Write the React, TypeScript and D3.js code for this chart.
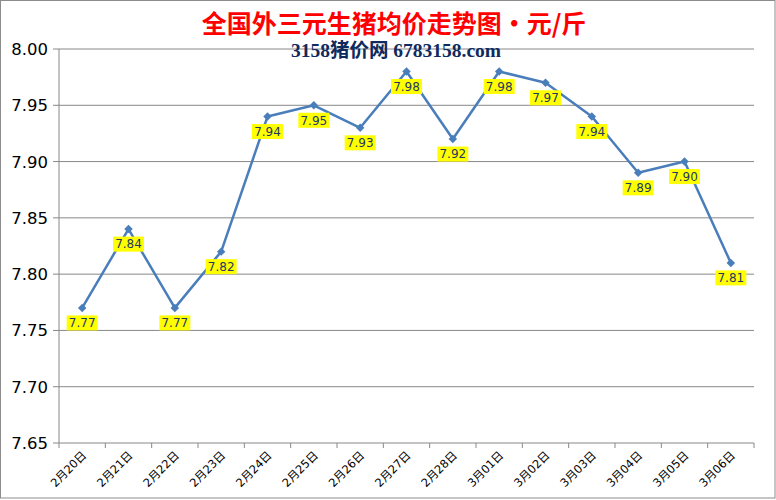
import React from "react";
import * as d3 from "d3";

const categories = ["2月20日","2月21日","2月22日","2月23日","2月24日","2月25日","2月26日","2月27日","2月28日","3月01日","3月02日","3月03日","3月04日","3月05日","3月06日"];
const prices = [7.77,7.84,7.77,7.82,7.94,7.95,7.93,7.98,7.92,7.98,7.97,7.94,7.89,7.90,7.81];
const yTicks = [7.65,7.70,7.75,7.80,7.85,7.90,7.95,8.00];
const title = "全国外三元生猪均价走势图・元/斤";
const subtitle = "3158猪价网  6783158.com";

const W = 776, H = 500;
const left = 59, right = 754, top = 49, bottom = 443;

export default function App() {
  const x = d3.scaleBand<string>().domain(categories).range([left, right]);
  const y = d3.scaleLinear().domain([7.65, 8.0]).range([bottom, top]);
  const cx = (c: string) => (x(c) as number) + x.bandwidth() / 2;
  const line = d3.line<number>().x((_, i) => cx(categories[i])).y(d => y(d));
  const marker = d3.symbol().type(d3.symbolSquare).size(36)();
  return (
    <svg width={W} height={H} style={{ position: "absolute", left: 0, top: 0 }}>
      <rect x={0.5} y={0.5} width={W - 1.5} height={H - 2.5} fill="#fff" stroke="#8c8c8c" />
      {yTicks.map(t => (
        <g key={t}>
          <line x1={left - 6} x2={right} y1={y(t)} y2={y(t)} stroke="#888" strokeWidth={1} />
          <text x={left - 11} y={y(t)} dy="0.36em" textAnchor="end" fontFamily="DejaVu Sans" fontSize={16.5} fill="#000">{t.toFixed(2)}</text>
        </g>
      ))}
      <line x1={left} x2={left} y1={top} y2={bottom} stroke="#888" />
      {categories.map((c, i) => (
        <line key={"t" + i} x1={(x(c) as number) + x.bandwidth()} x2={(x(c) as number) + x.bandwidth()} y1={bottom} y2={bottom + 5} stroke="#888" />
      ))}
      <line x1={left} x2={left} y1={bottom} y2={bottom + 5} stroke="#888" />
      {categories.map((c, i) => (
        <text key={"l" + i} transform={`translate(${cx(c) + 5},${bottom + 13}) rotate(-45)`} textAnchor="end" fontFamily="DejaVu Sans, Noto Sans CJK SC" fontSize={11.5} fill="#000">{c}</text>
      ))}
      <path d={line(prices) || ""} fill="none" stroke="#4a7ebb" strokeWidth={2.5} strokeLinejoin="round" />
      {prices.map((p, i) => (
        <path key={"m" + i} d={marker || ""} transform={`translate(${cx(categories[i])},${y(p)}) rotate(45)`} fill="#4a7ebb" />
      ))}
      {prices.map((p, i) => (
        <g key={"d" + i} transform={`translate(${cx(categories[i])},${y(p) + 15})`}>
          <rect x={-15.5} y={-7.5} width={31} height={15} fill="#ffff00" />
          <text y={0} dy="0.36em" textAnchor="middle" fontFamily="DejaVu Sans" fontSize={12} fill="#1f3864">{p.toFixed(2)}</text>
        </g>
      ))}
      <text x={394} y={33} textAnchor="middle" fontFamily="Noto Sans CJK SC" fontWeight="bold" fontSize={25} fill="#ff0000">{title}</text>
      <text x={396} y={57} textAnchor="middle" fontFamily="Liberation Serif, Noto Sans CJK SC" fontWeight="bold" fontSize={19.5} fill="#0f2a5c">{subtitle}</text>
    </svg>
  );
}
